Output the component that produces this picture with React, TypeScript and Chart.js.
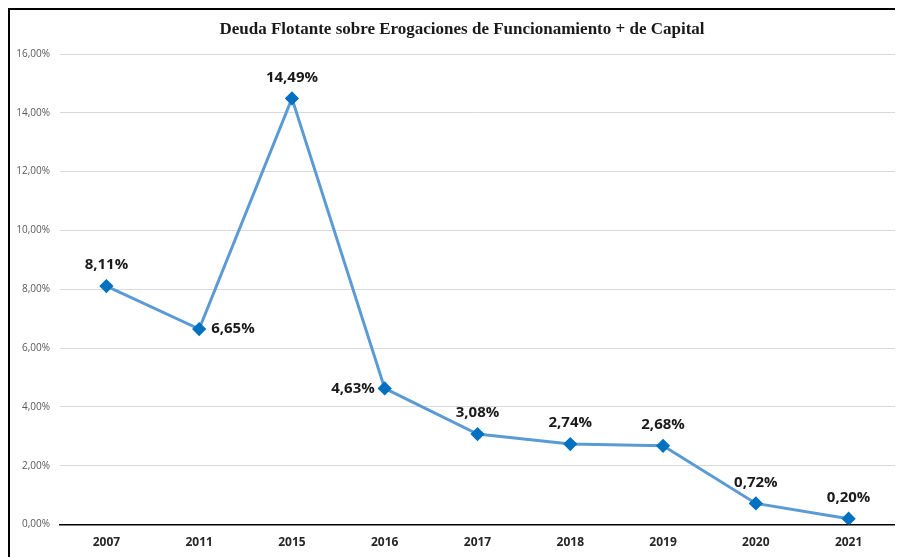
import React, { useEffect, useRef } from "react";
import { Chart, registerables } from "chart.js";

Chart.register(...registerables);

const TITLE = "Deuda Flotante sobre Erogaciones de Funcionamiento + de Capital";
const CATEGORIES = ["2007", "2011", "2015", "2016", "2017", "2018", "2019", "2020", "2021"];
const VALUES = [8.11, 6.65, 14.49, 4.63, 3.08, 2.74, 2.68, 0.72, 0.2];
const LABEL_POS = ["top", "right", "top", "left", "top", "top", "top", "top", "top"];
const Y_MIN = 0;
const Y_MAX = 16;
const Y_STEP = 2;

const fmt = (v: number) => v.toFixed(2).replace(".", ",") + "%";

const labelPlugin = {
  id: "valueLabels",
  afterDatasetsDraw(chart: any) {
    const ctx = chart.ctx;
    const meta = chart.getDatasetMeta(0);
    ctx.save();
    ctx.font = "bold 15px 'Open Sans', 'Liberation Sans', sans-serif";
    ctx.fillStyle = "#1a1a1a";
    ctx.textBaseline = "middle";
    meta.data.forEach((pt: any, i: number) => {
      const txt = fmt(VALUES[i]);
      const pos = LABEL_POS[i];
      if (pos === "top") {
        ctx.textAlign = "center";
        ctx.fillText(txt, pt.x, pt.y - 21);
      } else if (pos === "right") {
        ctx.textAlign = "left";
        ctx.fillText(txt, pt.x + 12, pt.y);
      } else {
        ctx.textAlign = "right";
        ctx.fillText(txt, pt.x - 10, pt.y);
      }
    });
    ctx.restore();
  },
};

const titlePlugin = {
  id: "customTitle",
  afterDraw(chart: any) {
    const ctx = chart.ctx;
    ctx.save();
    ctx.font = "bold 17px 'Liberation Serif', 'DejaVu Serif', serif";
    ctx.fillStyle = "#1a1a1a";
    ctx.textAlign = "center";
    ctx.textBaseline = "middle";
    ctx.fillText(TITLE, 452, 20);
    ctx.restore();
  },
};

export default function App() {
  const ref = useRef<HTMLCanvasElement | null>(null);
  useEffect(() => {
    if (!ref.current) return;
    const chart = new Chart(ref.current, {
      type: "line",
      data: {
        labels: CATEGORIES,
        datasets: [
          {
            data: VALUES,
            borderColor: "#5b9bd5",
            borderWidth: 3,
            pointStyle: "rectRot",
            pointRadius: 5,
            pointHoverRadius: 5,
            pointBackgroundColor: "#0070c0",
            pointBorderColor: "#0070c0",
            tension: 0,
          },
        ],
      },
      options: {
        animation: false,
        responsive: false,
        maintainAspectRatio: false,
        layout: { padding: { top: 44, right: 1, bottom: 4, left: 0 } },
        plugins: { legend: { display: false }, tooltip: { enabled: false }, title: { display: false } },
        scales: {
          x: {
            offset: true,
            grid: { display: false, drawTicks: true, tickLength: 8 },
            border: { display: true, color: "#000000", width: 1.5 },
            ticks: {
              color: "#262626",
              font: { family: "'Open Sans', 'Liberation Sans', sans-serif", size: 12, weight: "bold" },
              padding: 3,
            },
          },
          y: {
            min: Y_MIN,
            max: Y_MAX,
            afterFit: (s: any) => {
              s.width = 50;
            },
            grid: { color: "#d9d9d9", lineWidth: 1, drawTicks: false },
            border: { display: false },
            ticks: {
              stepSize: Y_STEP,
              color: "#595959",
              padding: 10,
              font: { family: "'Open Sans', 'Liberation Sans', sans-serif", size: 10 },
              callback: (v: any) => fmt(Number(v)),
            },
          },
        },
      },
      plugins: [labelPlugin, titlePlugin],
    });
    return () => chart.destroy();
  }, []);
  return (
    <div
      style={{
        position: "relative",
        width: 905,
        height: 560,
        borderLeft: "2px solid #000",
        borderTop: "2px solid #000",
        background: "#fff",
        boxSizing: "border-box",
      }}
    >
      <canvas ref={ref} width={893} height={547} style={{ display: "block" }} />
    </div>
  );
}
